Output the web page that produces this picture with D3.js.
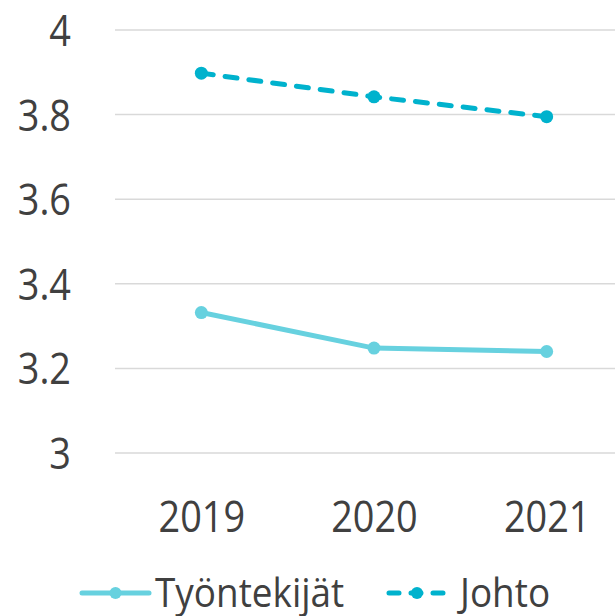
<!DOCTYPE html>
<html>
<head>
<meta charset="utf-8">
<style>
    body { margin: 0; background: #fff; }
    text { font-family: "Segoe UI", "Open Sans", sans-serif; fill: #404040; }
</style>
</head>
<body>
<script src="https://cdn.jsdelivr.net/npm/d3@7"></script>
<script>
    var years = ["2019", "2020", "2021"];
    var tyontekijat = [3.332, 3.248, 3.240];
    var johto = [3.898, 3.842, 3.795];
    var yTicks = [3, 3.2, 3.4, 3.6, 3.8, 4];

    var series = [
        { name: "Työntekijät", values: tyontekijat, color: "#67D1DF", dash: null },
        { name: "Johto", values: johto, color: "#00B2CD", dash: "12 12" }
    ];

    var width = 615, height = 616;
    var svg = d3.select("body").append("svg")
        .attr("width", width).attr("height", height);

    var x = d3.scalePoint().domain(years).range([115, 633]).padding(0.5);
    var y = d3.scaleLinear().domain([3, 4]).range([453, 30]);

    // grid
    svg.append("g").selectAll("line").data(yTicks).enter().append("line")
        .attr("x1", 115).attr("x2", width)
        .attr("y1", function(d) { return y(d); })
        .attr("y2", function(d) { return y(d); })
        .attr("stroke", "#d9d9d9").attr("stroke-width", 1.5);

    // y axis labels
    var yAxis = d3.axisLeft(y).tickValues(yTicks).tickSize(0).tickPadding(0)
        .tickFormat(function(d) { return d3.format("")(+d.toFixed(1)); });
    var gy = svg.append("g").attr("transform", "translate(71,0)").call(yAxis);
    gy.select(".domain").remove();
    gy.selectAll("text").attr("font-size", 44).attr("fill", "#404040")
        .attr("font-family", null).attr("dy", "0.35em")
        .attr("transform", "scale(0.86,1)");

    // x axis labels
    var xAxis = d3.axisBottom(x).tickSize(0).tickPadding(0);
    var gx = svg.append("g").attr("transform", "translate(0,517)").call(xAxis);
    gx.select(".domain").remove();
    gx.selectAll("text").attr("font-size", 44).attr("fill", "#404040")
        .attr("font-family", null).attr("dy", "0.35em").attr("y", 0)
        .attr("transform", "scale(0.86,1)");

    var line = d3.line()
        .x(function(d, i) { return x(years[i]); })
        .y(function(d) { return y(d); });

    series.forEach(function(s) {
        svg.append("path").datum(s.values)
            .attr("d", line)
            .attr("fill", "none")
            .attr("stroke", s.color)
            .attr("stroke-width", 5)
            .attr("stroke-linecap", "round")
            .attr("stroke-dasharray", s.dash);
        svg.append("g").selectAll("circle").data(s.values).enter().append("circle")
            .attr("cx", function(d, i) { return x(years[i]); })
            .attr("cy", function(d) { return y(d); })
            .attr("r", 6.5)
            .attr("fill", s.color);
    });

    // legend
    var legendY = 593;
    var legendItems = [
        { s: series[0], x0: 82, x1: 149, tx: 155 },
        { s: series[1], x0: 387, x1: 447, tx: 460 }
    ];
    legendItems.forEach(function(it) {
        var g = svg.append("g");
        if (it.s.dash) {
            g.append("line").attr("x1", it.x0 + 2).attr("x2", it.x1 - 2)
                .attr("y1", legendY).attr("y2", legendY)
                .attr("stroke", it.s.color).attr("stroke-width", 5)
                .attr("stroke-linecap", "round")
                .attr("stroke-dasharray", "10 12");
        } else {
            g.append("line").attr("x1", it.x0).attr("x2", it.x1)
                .attr("y1", legendY).attr("y2", legendY)
                .attr("stroke", it.s.color).attr("stroke-width", 5)
                .attr("stroke-linecap", "round");
        }
        g.append("circle").attr("cx", (it.x0 + it.x1) / 2).attr("cy", legendY)
            .attr("r", 6).attr("fill", it.s.color);
        g.append("text").attr("transform", "translate(" + it.tx + "," + legendY + ") scale(0.9,1)")
            .attr("dy", "0.33em")
            .attr("font-size", 41).text(it.s.name);
    });
</script>
</body>
</html>
